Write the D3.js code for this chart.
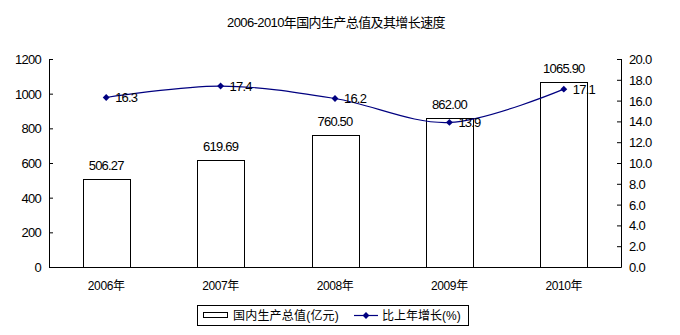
<!DOCTYPE html>
<html>
<head>
<meta charset="utf-8">
<script src="https://cdn.jsdelivr.net/npm/d3@7/dist/d3.min.js"></script>
<style>
  html, body { margin: 0; padding: 0; background: #fff; }
  svg text { font-family: "Liberation Sans", Arial, "Noto Sans CJK SC", sans-serif; fill: #000; }
</style>
</head>
<body>
<svg id="chart" width="680" height="335"></svg>
<script>
// GDP 2006-2010 and year-on-year growth
const years = ["2006年", "2007年", "2008年", "2009年", "2010年"];
const gdp = [506.27, 619.69, 760.50, 862.00, 1065.90];
const gdpLabels = ["506.27", "619.69", "760.50", "862.00", "1065.90"];
const growth = [16.3, 17.4, 16.2, 13.9, 17.1];
const leftTicks = [0, 200, 400, 600, 800, 1000, 1200];
const rightTicks = [0, 2, 4, 6, 8, 10, 12, 14, 16, 18, 20];

const svg = d3.select("#chart");
const m = { left: 49, right: 621, top: 59, bottom: 267 };
const lineColor = "#000080";

const x = d3.scaleBand().domain(years).range([m.left, m.right]).paddingInner(0).paddingOuter(0);
const yL = d3.scaleLinear().domain([0, 1200]).range([m.bottom, m.top]);
const yR = d3.scaleLinear().domain([0, 20]).range([m.bottom, m.top]);
const barW = 47;

// title
svg.append("text")
  .attr("x", 336).attr("y", 27)
  .attr("text-anchor", "middle")
  .style("font-size", "13px").style("letter-spacing", "-0.6px")
  .text("2006-2010年国内生产总值及其增长速度");

// left axis
const axL = svg.append("g").attr("transform", `translate(${m.left},0)`)
  .call(d3.axisRight(yL).tickValues(leftTicks).tickSize(4).tickFormat(d3.format("d")));
axL.select(".domain").remove();
axL.selectAll(".tick line").attr("stroke", "#000");
axL.selectAll(".tick text").remove();
axL.selectAll(".tick").append("text")
  .attr("x", -8).attr("dy", "0.35em")
  .attr("text-anchor", "end")
  .style("font-size", "13px").style("letter-spacing", "-0.7px")
  .text(d => d);

// right axis
const axR = svg.append("g").attr("transform", `translate(${m.right},0)`)
  .call(d3.axisLeft(yR).tickValues(rightTicks).tickSize(4));
axR.select(".domain").remove();
axR.selectAll(".tick line").attr("stroke", "#000");
axR.selectAll(".tick text").remove();
axR.selectAll(".tick").append("text")
  .attr("x", 8).attr("dy", "0.35em")
  .attr("text-anchor", "start")
  .style("font-size", "13px").style("letter-spacing", "-0.7px")
  .text(d => d3.format(".1f")(d));

// bars
svg.append("g").selectAll("rect").data(gdp).join("rect")
  .attr("x", (d, i) => Math.round(x(years[i]) + x.bandwidth() / 2 - barW / 2) + 0.5)
  .attr("y", d => Math.round(yL(d)) + 0.5)
  .attr("width", barW)
  .attr("height", d => Math.round(m.bottom) - Math.round(yL(d)))
  .attr("fill", "#fff").attr("stroke", "#000").attr("stroke-width", 1);

// axis lines
svg.append("path")
  .attr("d", `M${m.left + 0.5},${m.top}V${m.bottom + 0.5}H${m.right + 0.5}V${m.top}`)
  .attr("fill", "none").attr("stroke", "#000");

// bar labels
svg.append("g").selectAll("text").data(gdp).join("text")
  .attr("x", (d, i) => x(years[i]) + x.bandwidth() / 2)
  .attr("y", d => yL(d) - 9)
  .attr("text-anchor", "middle")
  .style("font-size", "13px").style("letter-spacing", "-0.8px")
  .text((d, i) => gdpLabels[i]);

// growth line (smoothed)
const cx = i => x(years[i]) + x.bandwidth() / 2;
const line = d3.line().x((d, i) => cx(i)).y(d => yR(d)).curve(d3.curveCatmullRom.alpha(0));
svg.append("path").datum(growth)
  .attr("d", line)
  .attr("fill", "none").attr("stroke", lineColor).attr("stroke-width", 1.2);

const diamond = d3.symbol().type(d3.symbolDiamond2).size(30);
svg.append("g").selectAll("path").data(growth).join("path")
  .attr("transform", (d, i) => `translate(${cx(i)},${yR(d)})`)
  .attr("d", diamond)
  .attr("fill", lineColor);

svg.append("g").selectAll("text").data(growth).join("text")
  .attr("x", (d, i) => cx(i) + 9)
  .attr("y", d => yR(d))
  .attr("dy", "0.35em")
  .style("font-size", "13px").style("letter-spacing", "-0.8px")
  .text(d => d3.format(".1f")(d));

// category labels
svg.append("g").selectAll("text").data(years).join("text")
  .attr("x", d => x(d) + x.bandwidth() / 2)
  .attr("y", 290)
  .attr("text-anchor", "middle")
  .style("font-size", "12px").style("letter-spacing", "-0.4px")
  .text(d => d);

// legend
const lg = svg.append("g");
lg.append("rect").attr("x", 197.5).attr("y", 305.5).attr("width", 271).attr("height", 20)
  .attr("fill", "#fff").attr("stroke", "#000");
lg.append("rect").attr("x", 203.5).attr("y", 312.5).attr("width", 24).attr("height", 5)
  .attr("fill", "#fff").attr("stroke", "#000");
lg.append("text").attr("x", 233).attr("y", 320)
  .style("font-size", "12px").style("letter-spacing", "0.2px")
  .text("国内生产总值(亿元)");
lg.append("line").attr("x1", 354).attr("x2", 378).attr("y1", 315.5).attr("y2", 315.5)
  .attr("stroke", lineColor).attr("stroke-width", 1.2);
lg.append("path").attr("transform", "translate(366,315.5)").attr("d", diamond).attr("fill", lineColor);
lg.append("text").attr("x", 382).attr("y", 320)
  .style("font-size", "12px")
  .text("比上年增长(%)");
</script>
</body>
</html>
